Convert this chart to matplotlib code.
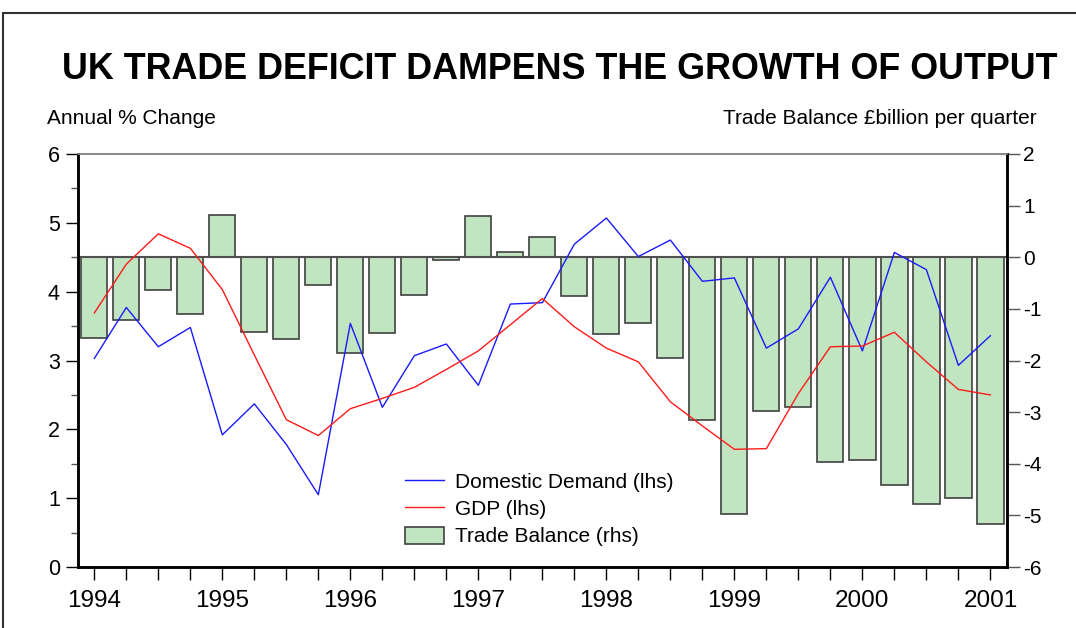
import matplotlib.pyplot as plt
import matplotlib.patches as mpatches
import numpy as np

plt.rcParams['font.family'] = ['Liberation Sans', 'DejaVu Sans']
plt.rcParams['axes.unicode_minus'] = False

# quarterly data, 1994 Q1 .. 2001 Q1
years = [1994, 1995, 1996, 1997, 1998, 1999, 2000, 2001]

domestic_demand = [3.03, 3.77, 3.20, 3.48, 1.92, 2.37, 1.78, 1.05, 3.54, 2.32,
                   3.07, 3.24, 2.64, 3.82, 3.84, 4.69, 5.07, 4.51, 4.75, 4.15,
                   4.20, 3.18, 3.46, 4.21, 3.14, 4.57, 4.32, 2.93, 3.36]

gdp = [3.69, 4.40, 4.84, 4.63, 4.03, 3.08, 2.14, 1.91, 2.30, 2.45,
       2.61, 2.87, 3.14, 3.52, 3.90, 3.49, 3.18, 2.98, 2.40, 2.05,
       1.71, 1.72, 2.52, 3.20, 3.21, 3.41, 2.98, 2.58, 2.50]

trade_balance = [-1.56, -1.21, -0.63, -1.10, 0.81, -1.45, -1.59, -0.54, -1.85, -1.47,
                 -0.74, -0.06, 0.79, 0.10, 0.39, -0.76, -1.49, -1.28, -1.96, -3.15,
                 -4.97, -2.97, -2.91, -3.96, -3.93, -4.42, -4.77, -4.66, -5.16]

q = np.arange(len(gdp))

fig = plt.figure(figsize=(10.76, 6.28), dpi=100)
ax = fig.add_axes([0.0725, 0.0971, 0.8634, 0.6577])
ax2 = ax.twinx()

# bars on the right axis
ax2.bar(q, trade_balance, width=0.82, color='#c1e5c1', edgecolor='#404040',
        linewidth=1.2, label='Trade Balance (rhs)')
ax2.axhline(0, color='#505050', linewidth=1.5)
ax2.set_ylim(-6, 2)
ax2.set_yticks(np.arange(-6, 3, 1))
ax2.tick_params(axis='y', direction='out', length=9.5, width=1, pad=2,
                labelsize=15, colors='#555555', labelcolor='black')

# lines on the left axis, drawn above the bars
ax.set_zorder(ax2.get_zorder() + 1)
ax.patch.set_visible(False)
l1, = ax.plot(q, domestic_demand, color='#1a1aff', linewidth=1.0, label='Domestic Demand (lhs)')
l2, = ax.plot(q, gdp, color='#ff1a1a', linewidth=1.0, label='GDP (lhs)')
ax.set_ylim(0, 6)
ax.set_xlim(-0.51, 28.52)
ax.set_yticks(np.arange(0, 7, 1))
ax.set_yticks(np.arange(0.5, 6, 1), minor=True)
ax.tick_params(axis='y', which='major', direction='out', length=9, width=1, pad=4, labelsize=15.5)
ax.tick_params(axis='y', which='minor', direction='out', length=5, width=1, colors='#555555')

ax.set_xticks(q[::4])
ax.set_xticklabels([str(y) for y in years])
ax.set_xticks(q, minor=True)
ax.tick_params(axis='x', which='both', direction='out', length=9.5, width=1, pad=7, labelsize=17.5)

for a in (ax, ax2):
    a.spines['top'].set_color('#888888')
    a.spines['top'].set_linewidth(1.2)
    a.spines['left'].set_linewidth(1.8)
    a.spines['bottom'].set_linewidth(1.8)
    a.spines['right'].set_linewidth(1.8)

bar_handle = mpatches.Patch(facecolor='#c1e5c1', edgecolor='#404040', linewidth=1.2)
ax.legend([l1, l2, bar_handle], ['Domestic Demand (lhs)', 'GDP (lhs)', 'Trade Balance (rhs)'],
          loc='upper left', bbox_to_anchor=(0.3666, 0.265), bbox_transform=fig.transFigure,
          frameon=False, fontsize=15, handlelength=1.87, handleheight=0.9,
          handletextpad=0.53, labelspacing=0.36, borderpad=0)

# outer frame, title and axis captions
fig.patches.append(mpatches.Rectangle((0.003, -0.05), 1.1, 1.029,
                                      transform=fig.transFigure, fill=False,
                                      edgecolor='#333333', linewidth=1.5))
fig.text(0.5205, 0.890, 'UK TRADE DEFICIT DAMPENS THE GROWTH OF OUTPUT',
         ha='center', va='center', fontsize=25.8, fontweight='bold')
fig.text(0.0435, 0.812, 'Annual % Change', ha='left', va='center', fontsize=15)
fig.text(0.963, 0.812, 'Trade Balance \u00a3billion per quarter', ha='right', va='center', fontsize=15)

plt.savefig('out.png', dpi=100)
